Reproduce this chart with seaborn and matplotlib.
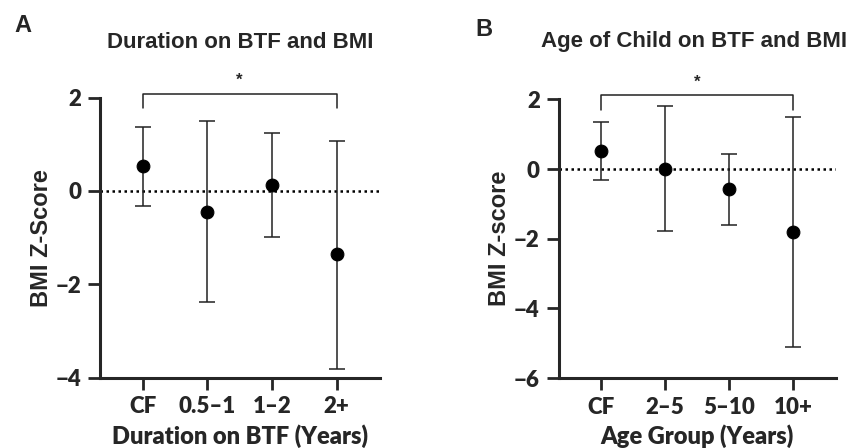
import numpy as np
import pandas as pd
import seaborn as sns
import matplotlib.pyplot as plt

# Panel A: duration on BTF
dur_groups = ['CF', '0.5–1', '1–2', '2+']
dur_mean = [0.53, -0.44, 0.13, -1.36]
dur_upper = [1.37, 1.51, 1.24, 1.08]
dur_lower = [-0.32, -2.37, -0.99, -3.81]

# Panel B: age of child
age_groups = ['CF', '2–5', '5–10', '10+']
age_mean = [0.53, 0.0, -0.58, -1.80]
age_upper = [1.36, 1.80, 0.44, 1.50]
age_lower = [-0.32, -1.79, -1.60, -5.10]

sns.set_style('ticks')
plt.rcParams['font.family'] = ['Liberation Sans', 'DejaVu Sans']

fig = plt.figure(figsize=(8.54, 4.48), dpi=100)
axA = fig.add_axes([0.117, 0.157, 0.328, 0.625])
axB = fig.add_axes([0.654, 0.156, 0.325, 0.622])

tick_font = dict(family=['Lato', 'DejaVu Sans'], weight='heavy', size=16)


def draw_panel(ax, groups, mean, upper, lower, ylim, yticks, bracket, star, xlabel, ylabel):
    df = pd.DataFrame({'pos': np.arange(len(groups)), 'mean': mean,
                       'upper': upper, 'lower': lower})
    ax.axhline(0, color='black', lw=1.8, ls=(0, (1, 1.4)), zorder=1)
    ax.errorbar(df['pos'], df['mean'],
                yerr=[df['mean'] - df['lower'], df['upper'] - df['mean']],
                fmt='none', ecolor='#222222', elinewidth=1.1, capsize=6, capthick=1.1, zorder=2)
    sns.scatterplot(data=df, x='pos', y='mean', ax=ax, color='black', s=85,
                    edgecolor='black', zorder=3, legend=False)
    ax.set_xlim(-0.66, 3.67)
    ax.set_ylim(*ylim)
    ax.set_yticks(yticks)
    ax.set_yticklabels(['−%d' % -t if t < 0 else str(t) for t in yticks], fontdict=tick_font)
    ax.set_xticks(df['pos'])
    ax.set_xticklabels(groups, fontdict=tick_font)
    ax.tick_params(length=8.5, width=2, pad=5, direction='out')
    for side in ['left', 'bottom']:
        ax.spines[side].set_linewidth(2.2)
    sns.despine(ax=ax)
    # significance bracket
    b_top, b_end = bracket
    ax.plot([0, 0, 3, 3], [b_end, b_top, b_top, b_end], color='#222222', lw=1.1,
            clip_on=False)
    ax.text(1.5, star, '*', ha='center', va='center', fontsize=12, fontweight='bold',
            clip_on=False)
    ax.set_xlabel(xlabel, fontdict=dict(family=['Lato', 'DejaVu Sans'], weight='heavy', size=17),
                  labelpad=5)
    ax.set_ylabel(ylabel, fontsize=17, fontweight='bold', labelpad=2)


draw_panel(axA, dur_groups, dur_mean, dur_upper, dur_lower, (-4, 2), [-4, -2, 0, 2],
           (2.07, 1.78), 2.37, 'Duration on BTF (Years)', 'BMI Z-Score')
draw_panel(axB, age_groups, age_mean, age_upper, age_lower, (-6, 2), [-6, -4, -2, 0, 2],
           (2.12, 1.70), 2.48, 'Age Group (Years)', 'BMI Z-score')

fig.text(240 / 854, 1 - 43 / 448, 'Duration on BTF and BMI', ha='center', va='center',
         fontsize=16, fontweight='bold')
fig.text(694 / 854, 1 - 41 / 448, 'Age of Child on BTF and BMI', ha='center', va='center',
         fontsize=16, fontweight='bold')
fig.text(14 / 854, 1 - 26 / 448, 'A', ha='left', va='center', fontsize=17, fontweight='bold')
fig.text(475 / 854, 1 - 30 / 448, 'B', ha='left', va='center', fontsize=17, fontweight='bold')

fig.savefig('out.png', dpi=100)
